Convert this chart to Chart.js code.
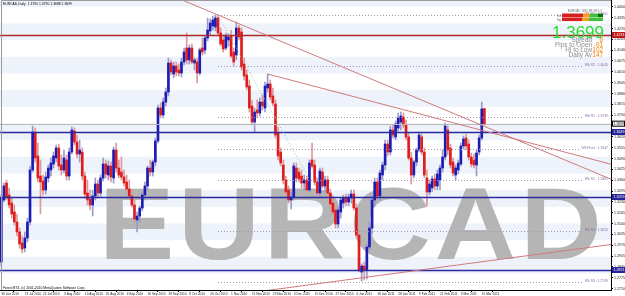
<!DOCTYPE html>
<html><head><meta charset="utf-8">
<script src="https://cdn.jsdelivr.net/npm/chart.js@4.4.0/dist/chart.umd.min.js"></script>
<style>html,body{margin:0;padding:0;background:#fff;overflow:hidden}canvas{display:block}</style>
</head><body>
<canvas id="c" width="625" height="296"></canvas>
<script>
const symbol = "EURCAD", timeframe = "Daily";
const monthDays = [
 ["Jun 2010",[30]],
 ["Jul 2010",[1,2,5,6,7,8,9,12,13,14,15,16,19,20,21,22,23,26,27,28,29,30]],
 ["Aug 2010",[2,3,4,5,6,9,10,11,12,13,16,17,18,19,20,23,24,25,26,27,30,31]],
 ["Sep 2010",[1,2,3,6,7,8,9,10,13,14,15,16,17,20,21,22,23,24,27,28,29,30]],
 ["Oct 2010",[1,4,5,6,7,8,11,12,13,14,15,18,19,20,21,22,25,26,27,28,29]],
 ["Nov 2010",[1,2,3,4,5,8,9,10,11,12,15,16,17,18,19,22,23,24,25,26,29,30]],
 ["Dec 2010",[1,2,3,6,7,8,9,10,13,14,15,16,17,20,21,22,23,24,27,28,29,30,31]],
 ["Jan 2011",[3,4,5,6,7,10,11,12,13,14,17,18,19,20,21,24,25,26,27,28,31]],
 ["Feb 2011",[1,2,3,4,7,8,9,10,11,14,15,16,17,18,21,22,23,24,25,28]],
 ["Mar 2011",[1,2,3,4,7,8,9,10,11,14,15,16]]
];
const tickDates = ["30 Jun 2010","13 Jul 2010","22 Jul 2010","3 Aug 2010","13 Aug 2010","25 Aug 2010","6 Sep 2010","16 Sep 2010","28 Sep 2010","8 Oct 2010","20 Oct 2010","1 Nov 2010","11 Nov 2010","23 Nov 2010","3 Dec 2010","15 Dec 2010","27 Dec 2010","6 Jan 2011","18 Jan 2011","28 Jan 2011","9 Feb 2011","21 Feb 2011","3 Mar 2011","15 Mar 2011"];
const futureSlots = 48;

const open = [
1.2869,1.3241,1.3343,1.3271,1.3223,1.3169,1.3109,1.3049,1.2983,1.2953,
1.3013,1.3109,1.3421,1.3643,1.3505,1.3385,1.3355,1.3301,1.3373,1.3421,
1.3457,1.3493,1.3553,1.3451,1.3421,1.3481,1.3385,1.3529,1.3655,1.3589,
1.3517,1.3529,1.3385,1.3283,1.3247,1.3211,1.3265,1.3337,1.3283,1.3373,
1.3457,1.3391,1.3445,1.3373,1.3541,1.3433,1.3409,1.3379,1.3349,1.3307,
1.3265,1.3211,1.3121,1.3145,1.3193,1.3271,1.3325,1.3433,1.3409,1.3469,
1.3595,1.3793,1.3751,1.3829,1.3889,1.4063,1.3997,1.4045,1.4021,1.4003,
1.4069,1.4153,1.4081,1.4153,1.4063,1.4069,1.4003,1.4153,1.4141,1.4213,
1.4255,1.4285,1.4279,1.4333,1.4243,1.4201,1.4153,1.4201,1.4225,1.4129,
1.4111,1.4273,1.4249,1.4057,1.3991,1.3925,1.3805,1.3709,1.3781,1.3763,
1.3829,1.3793,1.3913,1.3937,1.3865,1.3817,1.3643,1.3529,1.3451,1.3361,
1.3301,1.3241,1.3259,1.3433,1.3409,1.3385,1.3343,1.3361,1.3301,1.3481,
1.3451,1.3349,1.3283,1.3409,1.3325,1.3361,1.3283,1.3223,1.3181,1.3097,
1.3169,1.3223,1.3253,1.3229,1.3253,1.3277,1.3193,1.3031,1.2809,1.2845,
1.2821,1.2959,1.3073,1.3241,1.3349,1.3265,1.3391,1.3451,1.3577,1.3529,
1.3661,1.3619,1.3673,1.3709,1.3739,1.3691,1.3619,1.3493,1.3391,1.3469,
1.3541,1.3619,1.3529,1.3373,1.3289,1.3313,1.3367,1.3325,1.3361,1.3433,
1.3499,1.3661,1.3553,1.3469,1.3391,1.3421,1.3457,1.3565,1.3613,1.3577,
1.3499,1.3481,1.3451,1.3529,1.3613,1.3790];
const high = [
1.3271,1.3343,1.3361,1.3313,1.3253,1.3211,1.3157,1.3073,1.3025,1.3049,
1.3133,1.3445,1.3685,1.3673,1.3583,1.3481,1.3391,1.3409,1.3451,1.3493,
1.3529,1.3571,1.3577,1.3511,1.3541,1.3511,1.3553,1.3679,1.3673,1.3631,
1.3601,1.3553,1.3409,1.3361,1.3301,1.3301,1.3373,1.3361,1.3391,1.3493,
1.3481,1.3475,1.3469,1.3559,1.3583,1.3481,1.3499,1.3421,1.3391,1.3361,
1.3301,1.3241,1.3169,1.3205,1.3289,1.3349,1.3445,1.3481,1.3481,1.3613,
1.3811,1.3823,1.3853,1.3913,1.4093,1.4081,1.4069,1.4069,1.4057,1.4093,
1.4153,1.4243,1.4171,1.4177,1.4093,1.4093,1.4153,1.4213,1.4225,1.4333,
1.4327,1.4345,1.4351,1.4351,1.4273,1.4231,1.4243,1.4237,1.4261,1.4153,
1.4309,1.4291,1.4273,1.4093,1.4021,1.3961,1.3841,1.3793,1.3841,1.3853,
1.3871,1.3949,1.3997,1.3961,1.3913,1.3841,1.3679,1.3553,1.3481,1.3385,
1.3325,1.3289,1.3463,1.3463,1.3433,1.3421,1.3391,1.3385,1.3481,1.3583,
1.3481,1.3373,1.3433,1.3433,1.3385,1.3385,1.3307,1.3253,1.3211,1.3199,
1.3253,1.3271,1.3277,1.3277,1.3301,1.3301,1.3217,1.3061,1.2857,1.2869,
1.2977,1.3109,1.3265,1.3373,1.3373,1.3421,1.3469,1.3601,1.3601,1.3685,
1.3691,1.3715,1.3763,1.3769,1.3763,1.3721,1.3643,1.3529,1.3481,1.3553,
1.3649,1.3637,1.3553,1.3421,1.3361,1.3385,1.3397,1.3421,1.3451,1.3541,
1.3703,1.3685,1.3577,1.3493,1.3451,1.3481,1.3583,1.3625,1.3637,1.3601,
1.3523,1.3517,1.3541,1.3631,1.3829,1.3790];
const low = [
1.2845,1.3229,1.3241,1.3193,1.3133,1.3091,1.3025,1.2953,1.2923,1.2929,
1.2989,1.3091,1.3409,1.3469,1.3349,1.3157,1.3271,1.3277,1.3349,1.3385,
1.3433,1.3469,1.3421,1.3391,1.3403,1.3361,1.3361,1.3517,1.3571,1.3493,
1.3469,1.3361,1.3253,1.3211,1.3181,1.3145,1.3241,1.3253,1.3265,1.3355,
1.3373,1.3361,1.3349,1.3343,1.3409,1.3373,1.3361,1.3325,1.3289,1.3253,
1.3199,1.3109,1.3049,1.3109,1.3175,1.3241,1.3301,1.3385,1.3385,1.3445,
1.3583,1.3733,1.3733,1.3805,1.3865,1.3991,1.3973,1.3985,1.3985,1.3979,
1.4051,1.4057,1.4057,1.4057,1.4021,1.3943,1.3991,1.4111,1.4117,1.4195,
1.4231,1.4261,1.4255,1.4231,1.4165,1.4129,1.4141,1.4165,1.4093,1.4045,
1.4081,1.4201,1.4021,1.3961,1.3901,1.3769,1.3691,1.3649,1.3733,1.3745,
1.3781,1.3769,1.3889,1.3841,1.3805,1.3613,1.3481,1.3445,1.3337,1.3271,
1.3223,1.3187,1.3241,1.3349,1.3349,1.3313,1.3301,1.3283,1.3289,1.3433,
1.3331,1.3265,1.3265,1.3313,1.3289,1.3265,1.3193,1.3151,1.3073,1.3073,
1.3133,1.3193,1.3205,1.3205,1.3223,1.3181,1.3013,1.2809,1.2755,1.2761,
1.2767,1.2941,1.3037,1.3205,1.3241,1.3241,1.3361,1.3421,1.3505,1.3511,
1.3613,1.3601,1.3655,1.3661,1.3673,1.3601,1.3481,1.3337,1.3373,1.3445,
1.3529,1.3511,1.3373,1.3205,1.3271,1.3289,1.3301,1.3301,1.3301,1.3409,
1.3481,1.3511,1.3433,1.3385,1.3361,1.3397,1.3445,1.3547,1.3541,1.3481,
1.3439,1.3433,1.3385,1.3511,1.3601,1.3688];
const close = [
1.3253,1.3325,1.3259,1.3211,1.3157,1.3109,1.3049,1.2977,1.2947,1.3013,
1.3109,1.3421,1.3649,1.3493,1.3373,1.3349,1.3301,1.3379,1.3433,1.3463,
1.3505,1.3553,1.3445,1.3421,1.3493,1.3385,1.3529,1.3661,1.3589,1.3517,
1.3541,1.3385,1.3277,1.3241,1.3211,1.3265,1.3337,1.3283,1.3373,1.3457,
1.3397,1.3445,1.3379,1.3541,1.3433,1.3391,1.3379,1.3343,1.3307,1.3265,
1.3211,1.3127,1.3145,1.3193,1.3271,1.3325,1.3433,1.3409,1.3469,1.3595,
1.3793,1.3751,1.3829,1.3889,1.4063,1.4009,1.4045,1.4009,1.4003,1.4069,
1.4129,1.4081,1.4153,1.4069,1.4081,1.4003,1.4141,1.4129,1.4213,1.4261,
1.4303,1.4321,1.4333,1.4243,1.4177,1.4147,1.4225,1.4219,1.4105,1.4069,
1.4273,1.4219,1.4039,1.3985,1.3919,1.3793,1.3709,1.3769,1.3763,1.3829,
1.3805,1.3925,1.3937,1.3859,1.3823,1.3631,1.3505,1.3463,1.3361,1.3289,
1.3241,1.3259,1.3445,1.3373,1.3367,1.3343,1.3361,1.3301,1.3463,1.3445,
1.3349,1.3283,1.3415,1.3325,1.3361,1.3283,1.3217,1.3169,1.3097,1.3181,
1.3241,1.3253,1.3229,1.3259,1.3277,1.3193,1.3031,1.2821,1.2845,1.2821,
1.2959,1.3073,1.3241,1.3349,1.3265,1.3403,1.3451,1.3577,1.3529,1.3661,
1.3631,1.3697,1.3733,1.3745,1.3691,1.3619,1.3493,1.3391,1.3469,1.3541,
1.3631,1.3529,1.3391,1.3289,1.3337,1.3367,1.3325,1.3397,1.3433,1.3499,
1.3685,1.3541,1.3451,1.3403,1.3433,1.3463,1.3565,1.3607,1.3565,1.3499,
1.3457,1.3451,1.3523,1.3613,1.3787,1.3699];

const yMin = 1.2701, yMax = 1.4441;
const yTickValues = [1.2710,1.2775,1.2840,1.2905,1.2970,1.3035,1.3100,1.3165,1.3230,1.3295,1.3360,1.3425,1.3490,1.3555,1.3620,1.3685,1.3750,1.3815,1.3880,1.3945,1.4010,1.4075,1.4140,1.4205,1.4270,1.4335,1.4400];
const bandFloors = [1.28,1.30,1.32,1.34,1.36,1.38,1.40,1.42,1.44];
const bandHeight = 0.01;
const resistanceLevels = [1.4231];
const supportLevels = [1.3649,1.3259,1.2821];
const pivotNames = ["Wk R3","Wk R2","Wk R1","Wk Pivot","Wk S1","Wk S2","Wk S3"];
const pivotPrices = [1.4351,1.4045,1.3739,1.3547,1.3361,1.3055,1.2749];
const pivotStartIndex = 83;
const trendDown1 = [[83,1.4351],[233,1.3369]];
const trendDown2 = [[102,1.3997],[238,1.3437]];
const trendUp = [[138,1.2774],[233,1.2973]];
const dottedSwing = [[83.4,1.4339],[117.8,1.3370]];
const panelLabels = ["Spread","Pips to Open","Hi to Low","Daily Av"];
const panelValues = ["6","-91","102","147"];
const panelHeader = "EURCAD  M15 H1 H4 D1";

const n = close.length;
const dates = monthDays.flatMap(([m, ds]) => ds.map(d => d + " " + m));
const labels = dates.concat(Array(futureSlots).fill(""));
const bull = close.map((c, i) => c >= open[i]);
const FONT = '"Liberation Sans", Arial, sans-serif';

const overlay = {
  id: 'overlay',
  beforeDatasetsDraw(chart) {
    const {ctx, chartArea: a, scales: {x, y}} = chart;
    ctx.save();
    ctx.beginPath(); ctx.rect(a.left, a.top, a.right - a.left, a.bottom - a.top); ctx.clip();
    ctx.fillStyle = '#edf2fb';
    bandFloors.forEach(p => {
      const y1 = y.getPixelForValue(p + bandHeight), y2 = y.getPixelForValue(p);
      ctx.fillRect(a.left, y1, a.right - a.left, y2 - y1);
    });
    // watermark
    ctx.fillStyle = '#b5b5b5';
    ctx.font = 'bold 102px ' + FONT;
    ctx.textBaseline = 'alphabetic';
    const chars = symbol.split('');
    const widths = chars.map(c => ctx.measureText(c).width);
    const total = widths.reduce((s, w) => s + w, 0);
    const left = a.left + (a.right - a.left) * 0.162, right = a.left + (a.right - a.left) * 0.985;
    const gapPx = 4;
    const sx = (right - left - gapPx * (chars.length - 1)) / total;
    const baseY = a.top + (a.bottom - a.top) * 0.893;
    let cx = left;
    chars.forEach((c, i) => {
      ctx.save(); ctx.translate(cx, baseY); ctx.scale(sx, 1); ctx.fillText(c, 0, 0); ctx.restore();
      cx += widths[i] * sx + gapPx;
    });
    ctx.restore();
  },
  afterDatasetsDraw(chart) {
    const {ctx, chartArea: a, scales: {x, y}} = chart;
    ctx.save();
    ctx.beginPath(); ctx.rect(a.left, a.top, a.right - a.left, a.bottom - a.top); ctx.clip();
    const hline = (p, color, w, dash) => {
      const py = Math.round(y.getPixelForValue(p)) + 0.5;
      ctx.strokeStyle = color; ctx.lineWidth = w; ctx.setLineDash(dash || []);
      ctx.beginPath(); ctx.moveTo(a.left, py); ctx.lineTo(a.right, py); ctx.stroke();
    };
    hline(close[n - 1], '#b8b8b8', 1);
    resistanceLevels.forEach(p => hline(p, '#b02a2a', 1.6));
    supportLevels.forEach(p => hline(p, '#2a2a9e', 1.6));
    ctx.font = '3.4px ' + FONT;
    ctx.textBaseline = 'middle'; ctx.textAlign = 'right';
    pivotPrices.forEach((p, i) => {
      const py = Math.round(y.getPixelForValue(p)) + 0.5;
      const txt = pivotNames[i] + ' : ' + p.toFixed(4);
      const tw = ctx.measureText(txt).width;
      ctx.strokeStyle = '#a596b6'; ctx.lineWidth = 1; ctx.setLineDash([1, 2]);
      ctx.beginPath(); ctx.moveTo(x.getPixelForValue(pivotStartIndex), py); ctx.lineTo(a.right - 3 - tw - 1, py); ctx.stroke();
      ctx.fillStyle = '#8a6aa8';
      ctx.fillText(txt, a.right - 3, py - 1);
    });
    ctx.setLineDash([]);
    const seg = (pts, extL, extR, color, dash) => {
      const x1 = x.getPixelForValue(pts[0][0]), y1 = y.getPixelForValue(pts[0][1]);
      const x2 = x.getPixelForValue(pts[1][0]), y2 = y.getPixelForValue(pts[1][1]);
      const m = (y2 - y1) / (x2 - x1);
      const xa = extL ? a.left : x1, xb = extR ? a.right : x2;
      ctx.strokeStyle = color; ctx.lineWidth = 1; ctx.setLineDash(dash || []);
      ctx.beginPath(); ctx.moveTo(xa, y1 + m * (xa - x1)); ctx.lineTo(xb, y1 + m * (xb - x1)); ctx.stroke();
    };
    seg(trendDown1, true, true, '#d07a7a');
    seg(trendDown2, false, true, '#d07a7a');
    seg(trendUp, true, true, '#d07a7a');
    seg(dottedSwing, false, false, '#93c093', [1, 2]);
    ctx.restore();
  },
  afterDraw(chart) {
    const {ctx, chartArea: a, scales: {x, y}} = chart;
    ctx.save();
    ctx.strokeStyle = '#9a9a9a'; ctx.lineWidth = 1;
    ctx.beginPath(); ctx.moveTo(a.left + 1.5, a.bottom); ctx.lineTo(a.left + 1.5, a.top + 0.5); ctx.lineTo(a.right, a.top + 0.5); ctx.stroke();
    const box = (p, fill, stroke, txtColor) => {
      const py = y.getPixelForValue(p);
      ctx.fillStyle = fill; ctx.fillRect(a.right + 1, py - 3, 13, 6);
      if (stroke) { ctx.strokeStyle = stroke; ctx.lineWidth = 1; ctx.strokeRect(a.right + 1.5, py - 2.5, 12, 5); }
      ctx.fillStyle = txtColor; ctx.font = '3.6px ' + FONT; ctx.textAlign = 'left'; ctx.textBaseline = 'middle';
      ctx.fillText(p.toFixed(4), a.right + 2.5, py + 0.3);
    };
    resistanceLevels.forEach(p => box(p, '#c01818', null, '#fff'));
    supportLevels.forEach(p => box(p, '#24249a', null, '#fff'));
    box(close[n - 1], '#fff', '#000', '#000');
    ctx.fillStyle = '#000'; ctx.font = '3.4px ' + FONT; ctx.textAlign = 'left'; ctx.textBaseline = 'top';
    ctx.fillText(symbol + ',' + timeframe + '  ' + [open[n-1], high[n-1], low[n-1], close[n-1]].map(v => v.toFixed(4)).join(' '), 3, 2.5);
    ctx.textBaseline = 'alphabetic';
    ctx.fillText('Forex MT4, (c) 2001-2010 MetaQuotes Software Corp.', 3, a.bottom - 1.5);
    ctx.fillStyle = '#666'; ctx.font = '3px ' + FONT; ctx.textAlign = 'right';
    ctx.fillText(panelHeader, 602, 12);
    ctx.fillText('Trd', 561, 16.5); ctx.fillText('Sig', 561, 20.5);
    const rows = [[13.5, [['#d42020', 562, 583], ['#f0a020', 583, 590], ['#40c040', 590, 598], ['#107010', 598, 603]]],
                  [17.5, [['#d42020', 562, 582], ['#f0a020', 582, 589], ['#40c040', 589, 603]]]];
    rows.forEach(([ry, segs]) => segs.forEach(([c, x0, x1]) => { ctx.fillStyle = c; ctx.fillRect(x0, ry, x1 - x0, 3.6); }));
    ctx.fillStyle = '#2bdc2b'; ctx.font = '17px ' + FONT; ctx.textAlign = 'right';
    ctx.fillText(close[n - 1].toFixed(4), 604, 38);
    ctx.font = '6.4px ' + FONT;
    panelLabels.forEach((t, i) => {
      ctx.fillStyle = '#8c8c8c'; ctx.textAlign = 'right'; ctx.fillText(t, 592, 41.5 + i * 5);
      ctx.fillStyle = '#f08010'; ctx.fillText(panelValues[i], 603, 41.5 + i * 5);
    });
    ctx.restore();
  }
};

new Chart(document.getElementById('c'), {
  type: 'bar',
  data: {
    labels: labels,
    datasets: [
      { label: 'Range', data: low.map((l, i) => [l, high[i]]), backgroundColor: bull.map(b => b ? '#9a9ad0' : '#dc9a9a'),
        barThickness: 1, grouped: false, order: 2, minBarLength: 1 },
      { label: 'Body', data: open.map((o, i) => [o, close[i]]), backgroundColor: bull.map(b => b ? '#1c1cb4' : '#e01c1c'),
        barThickness: 2, grouped: false, order: 1, minBarLength: 1 }
    ]
  },
  options: {
    responsive: false, animation: false, devicePixelRatio: 1,
    layout: { padding: 0 },
    plugins: { legend: { display: false }, tooltip: { enabled: false } },
    scales: {
      x: {
        grid: { display: true, drawOnChartArea: false, tickLength: 2, color: '#000' },
        border: { display: true, color: '#000' },
        ticks: { autoSkip: false, maxRotation: 0, align: 'start', padding: 0, color: '#222', font: { size: 3.2, family: FONT } },
        afterBuildTicks: s => { s.ticks = s.ticks.filter(t => tickDates.includes(labels[t.value])); },
        afterFit: s => { s.height = 6; s.paddingLeft = 0; s.paddingRight = 0; }
      },
      y: {
        position: 'right', min: yMin, max: yMax,
        grid: { display: true, drawOnChartArea: false, tickLength: 2, color: '#000' },
        border: { display: true, color: '#000' },
        ticks: { padding: 1, color: '#222', font: { size: 3.6, family: FONT }, callback: v => v.toFixed(4) },
        afterBuildTicks: s => { s.ticks = yTickValues.map(v => ({ value: v })); },
        afterFit: s => { s.width = 14; s.paddingTop = 0; s.paddingBottom = 0; }
      }
    }
  },
  plugins: [overlay]
});
</script>
</body></html>
